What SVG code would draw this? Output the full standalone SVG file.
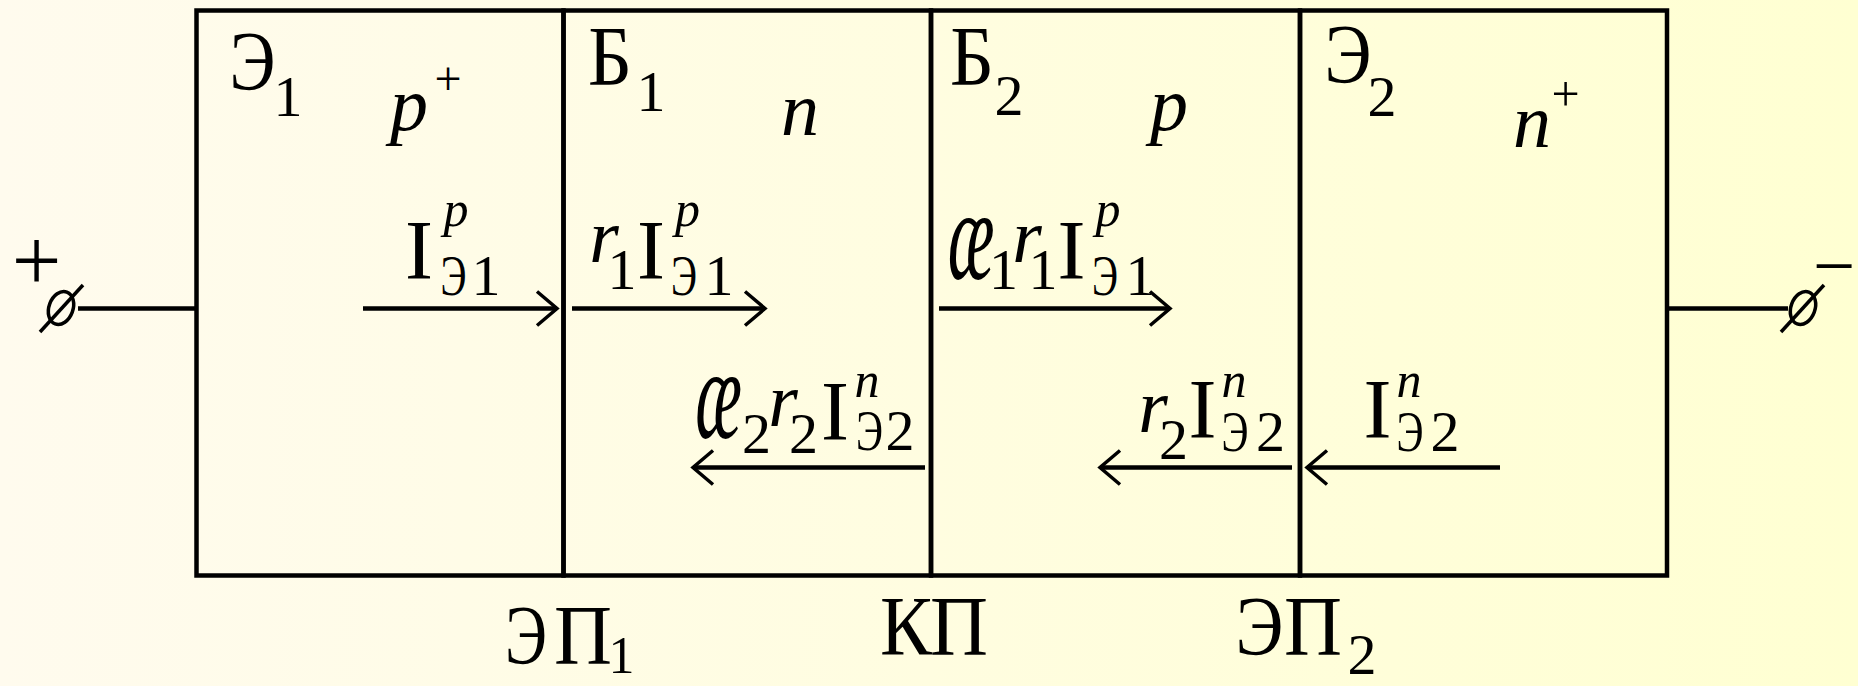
<svg xmlns="http://www.w3.org/2000/svg" width="1858" height="686" viewBox="0 0 1858 686">
<defs>
<linearGradient id="bg" x1="0" y1="0" x2="1" y2="0">
<stop offset="0" stop-color="#FFFBEE"/>
<stop offset="1" stop-color="#FFFFD2"/>
</linearGradient>
<marker id="head" markerUnits="userSpaceOnUse" viewBox="-24 -20 28 40" refX="0" refY="0" markerWidth="28" markerHeight="40" orient="auto">
<path d="M-20,-17 L0,0 L-20,17" fill="none" stroke="#000" stroke-width="3.5"/>
</marker>
<style>
.t{font-family:"Liberation Serif","DejaVu Serif",serif;fill:#000;text-anchor:middle}
.cap{font-size:84px}
.sub{font-size:58px}
.sup{font-size:50px;font-style:italic}
.it{font-size:76px;font-style:italic}
.ln{stroke:#000;stroke-width:4.5;fill:none}
.ar{stroke:#000;stroke-width:4.5;fill:none;marker-end:url(#head)}
.box{fill:none;stroke:#000;stroke-width:4.5}
.term{fill:none;stroke:#000;stroke-width:3.5}
</style>
</defs>
<rect x="0" y="0" width="1858" height="686" fill="url(#bg)"/>

<g id="region-E1">
<rect class="box" x="196.5" y="10.5" width="367" height="565"/>
<text class="t cap" x="252.5" y="90" textLength="46" lengthAdjust="spacingAndGlyphs">Э</text>
<text class="t sub" x="288" y="116">1</text>
<text class="t it" x="409" y="130">p</text>
<text class="t" style="font-size:48px" x="448" y="95">+</text>
</g>

<g id="region-B1">
<rect class="box" x="563.5" y="10.5" width="367.5" height="565"/>
<text class="t cap" x="610" y="85" textLength="44" lengthAdjust="spacingAndGlyphs">Б</text>
<text class="t sub" x="651" y="111">1</text>
<text class="t it" x="800" y="135">n</text>
</g>

<g id="region-B2">
<rect class="box" x="931" y="10.5" width="369" height="565"/>
<text class="t cap" x="972" y="85" textLength="44" lengthAdjust="spacingAndGlyphs">Б</text>
<text class="t sub" x="1009" y="115">2</text>
<text class="t it" x="1169" y="130">p</text>
</g>

<g id="region-E2">
<rect class="box" x="1300" y="10.5" width="367" height="565"/>
<text class="t cap" x="1348" y="83" textLength="47" lengthAdjust="spacingAndGlyphs">Э</text>
<text class="t sub" x="1382" y="116">2</text>
<text class="t it" x="1532" y="147">n</text>
<text class="t" style="font-size:50px" x="1565.5" y="111">+</text>
</g>

<g id="terminal-left">
<text class="t" style="font-size:88px" x="36.5" y="290">+</text>
<ellipse class="term" cx="61" cy="308" rx="12" ry="17" transform="rotate(20 61 308)"/>
<line class="term" x1="40" y1="332" x2="83" y2="285"/>
</g>

<g id="terminal-right">
<text class="t" style="font-size:75px" x="1834" y="291">−</text>
<ellipse class="term" cx="1803" cy="308" rx="12" ry="17" transform="rotate(20 1803 308)"/>
<line class="term" x1="1781" y1="332" x2="1824" y2="285"/>
</g>

<g id="junction-labels">
<g id="label-EP1">
<text class="t cap" x="526" y="664" textLength="42" lengthAdjust="spacingAndGlyphs">Э</text>
<text class="t cap" x="583" y="664" textLength="58" lengthAdjust="spacingAndGlyphs">П</text>
<text class="t" style="font-size:52px" x="621.5" y="673">1</text>
</g>
<g id="label-KP">
<text class="t cap" x="906" y="655" textLength="52" lengthAdjust="spacingAndGlyphs">К</text>
<text class="t cap" x="959" y="655" textLength="58" lengthAdjust="spacingAndGlyphs">П</text>
</g>
<g id="label-EP2">
<text class="t cap" x="1259.5" y="655" textLength="48" lengthAdjust="spacingAndGlyphs">Э</text>
<text class="t cap" x="1313" y="655" textLength="58" lengthAdjust="spacingAndGlyphs">П</text>
<text class="t sub" x="1362" y="674">2</text>
</g>
</g>

<g id="connectors">
<line class="ln" x1="78" y1="308.5" x2="196.5" y2="308.5"/>
<line class="ln" x1="1667" y1="308.5" x2="1788" y2="308.5"/>
<line class="ar" x1="363" y1="308.5" x2="557" y2="308.5"/>
<line class="ar" x1="572" y1="308.5" x2="765" y2="308.5"/>
<line class="ar" x1="939" y1="308.5" x2="1170" y2="308.5"/>
<line class="ar" x1="925" y1="467.5" x2="693" y2="467.5"/>
<line class="ar" x1="1292" y1="467.5" x2="1100" y2="467.5"/>
<line class="ar" x1="1500" y1="467.5" x2="1307" y2="467.5"/>
</g>

<g id="arrow-labels">
<g id="label-IE1p">
<text class="t cap" x="419" y="279">I</text>
<text class="t sup" x="456" y="226">p</text>
<text class="t sub" x="453.5" y="295" textLength="26" lengthAdjust="spacingAndGlyphs">Э</text>
<text class="t sub" x="486" y="295">1</text>
</g>
<g id="label-r1IE1p">
<text class="t it" x="604" y="262">r</text>
<text class="t sub" x="622" y="289">1</text>
<text class="t cap" x="651" y="279">I</text>
<text class="t sup" x="687.5" y="226">p</text>
<text class="t sub" x="684" y="295" textLength="26" lengthAdjust="spacingAndGlyphs">Э</text>
<text class="t sub" x="719" y="295">1</text>
</g>
<g id="label-a1r1IE1p">
<text class="t" style="font-size:70px;font-style:italic" transform="translate(971 279) scale(1 1.85)">æ</text>
<text class="t sub" x="1003.5" y="289">1</text>
<text class="t it" x="1027" y="262">r</text>
<text class="t sub" x="1043" y="289">1</text>
<text class="t cap" x="1071.5" y="279">I</text>
<text class="t sup" x="1108" y="226">p</text>
<text class="t sub" x="1105" y="295" textLength="26" lengthAdjust="spacingAndGlyphs">Э</text>
<text class="t sub" x="1140" y="295">1</text>
</g>
<g id="label-a2r2IE2n">
<text class="t" style="font-size:70px;font-style:italic" transform="translate(718.5 438) scale(1 1.85)">æ</text>
<text class="t sub" x="756.5" y="453">2</text>
<text class="t it" x="783" y="426">r</text>
<text class="t sub" x="803.5" y="453">2</text>
<text class="t cap" x="835" y="440">I</text>
<text class="t sup" x="867" y="397">n</text>
<text class="t sub" x="869.5" y="450" textLength="27" lengthAdjust="spacingAndGlyphs">Э</text>
<text class="t sub" x="900" y="450">2</text>
</g>
<g id="label-r2IE2n">
<text class="t it" x="1153" y="432">r</text>
<text class="t sub" x="1173.5" y="459">2</text>
<text class="t cap" x="1202.5" y="438">I</text>
<text class="t sup" x="1234" y="397">n</text>
<text class="t sub" x="1235" y="451" textLength="27" lengthAdjust="spacingAndGlyphs">Э</text>
<text class="t sub" x="1270.5" y="451">2</text>
</g>
<g id="label-IE2n">
<text class="t cap" x="1377.5" y="438">I</text>
<text class="t sup" x="1409" y="397">n</text>
<text class="t sub" x="1410" y="451" textLength="27" lengthAdjust="spacingAndGlyphs">Э</text>
<text class="t sub" x="1445" y="451">2</text>
</g>
</g>
</svg>
